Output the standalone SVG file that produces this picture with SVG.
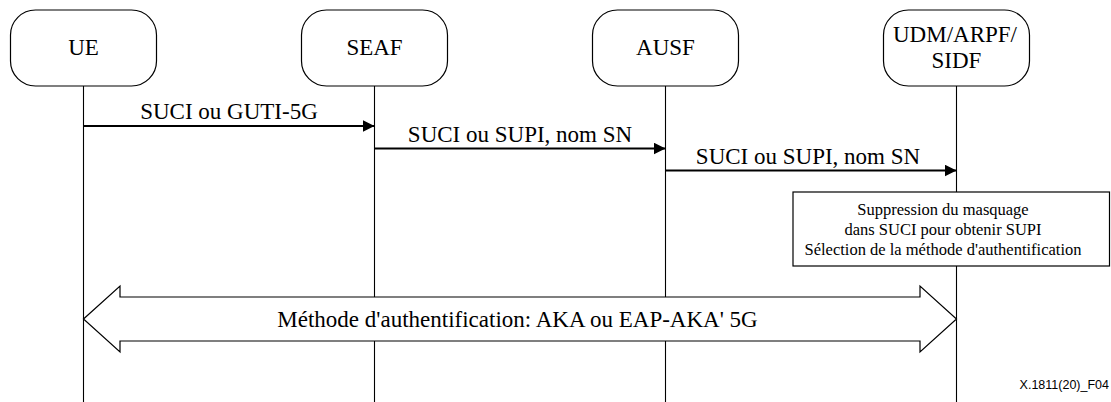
<svg xmlns="http://www.w3.org/2000/svg" width="1111" height="402" viewBox="0 0 1111 402">
  <style>
    .box { fill: #ffffff; stroke: #000000; stroke-width: 1.2; }
    .life { stroke: #000000; stroke-width: 1.1; fill: none; }
    .msg { stroke: #000000; stroke-width: 2; fill: none; }
    .lbl { font-size: 23px; fill: #000000; text-anchor: middle; }
    .note { font-size: 16.5px; fill: #000000; text-anchor: middle; }
    .ref { font-family: 'Liberation Sans', Arial, sans-serif; font-size: 12.5px; fill: #000000; text-anchor: end; }
  </style>
  <defs>
    <marker id="head" viewBox="0 0 12 12" refX="12" refY="6" markerWidth="12" markerHeight="12" markerUnits="userSpaceOnUse" orient="auto">
      <path d="M0,0 L12,6 L0,12 Z" fill="#000000"/>
    </marker>
  </defs>
  <rect width="1111" height="402" fill="#ffffff"/>

  <!-- lifelines -->
  <g id="lifelines">
    <line class="life" x1="83.5" y1="86" x2="83.5" y2="402"/>
    <line class="life" x1="374.5" y1="86" x2="374.5" y2="402"/>
    <line class="life" x1="665.5" y1="86" x2="665.5" y2="402"/>
    <line class="life" x1="956.5" y1="86" x2="956.5" y2="402"/>
  </g>

  <g font-family="'Liberation Serif', 'Times New Roman', 'DejaVu Serif', serif">
    <!-- participants -->
    <g id="ue">
      <rect class="box" x="10.5" y="10" width="146" height="76" rx="25" ry="25"/>
      <text class="lbl" x="83.5" y="55">UE</text>
    </g>
    <g id="seaf">
      <rect class="box" x="301.5" y="10" width="146" height="76" rx="25" ry="25"/>
      <text class="lbl" x="374.5" y="55">SEAF</text>
    </g>
    <g id="ausf">
      <rect class="box" x="592.5" y="10" width="146" height="76" rx="25" ry="25"/>
      <text class="lbl" x="665.5" y="55">AUSF</text>
    </g>
    <g id="udm">
      <rect class="box" x="883.5" y="10" width="146" height="76" rx="25" ry="25"/>
      <text class="lbl" x="955" y="42">UDM/ARPF/</text>
      <text class="lbl" x="956.5" y="68">SIDF</text>
    </g>

    <!-- messages -->
    <g id="connectors">
      <line class="msg" x1="83.5" y1="126" x2="374.5" y2="126" marker-end="url(#head)"/>
      <text class="lbl" x="229" y="119">SUCI ou GUTI-5G</text>
      <line class="msg" x1="374.5" y1="148.5" x2="665.5" y2="148.5" marker-end="url(#head)"/>
      <text class="lbl" x="520" y="141.5">SUCI ou SUPI, nom SN</text>
      <line class="msg" x1="665.5" y1="170.5" x2="956.5" y2="170.5" marker-end="url(#head)"/>
      <text class="lbl" x="808" y="163.5">SUCI ou SUPI, nom SN</text>

      <!-- two-way authentication exchange -->
      <g id="auth">
        <path class="box" d="M83.5,319 L120,286 L120,297 L920,297 L920,286 L956.5,319 L920,352 L920,341 L120,341 L120,352 Z"/>
        <text class="lbl" x="517.5" y="327" font-size="22.6">Méthode d'authentification: AKA ou EAP-AKA' 5G</text>
      </g>
    </g>

    <!-- processing at UDM/ARPF/SIDF -->
    <g id="sidf-note">
      <rect class="box" x="793" y="192" width="316.5" height="74"/>
      <text class="note" x="943" y="214.5">Suppression du masquage</text>
      <text class="note" x="943" y="234.5">dans SUCI pour obtenir SUPI</text>
      <text class="note" x="943" y="254.5">Sélection de la méthode d'authentification</text>
    </g>
  </g>

  <text class="ref" x="1109" y="389">X.1811(20)_F04</text>
</svg>
